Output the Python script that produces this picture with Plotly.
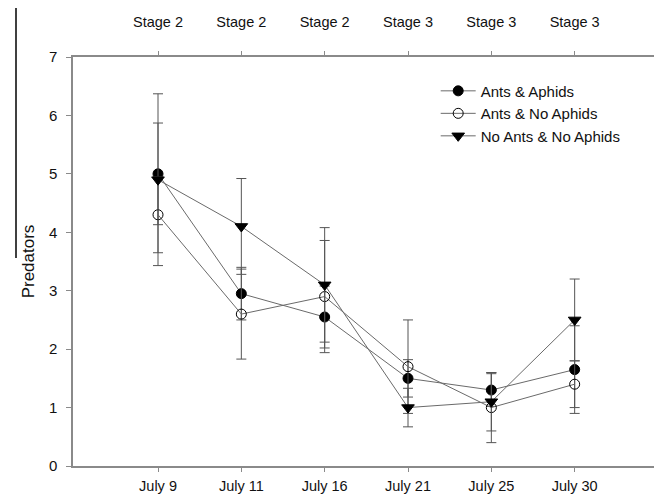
import plotly.graph_objects as go

dates = ["July 9", "July 11", "July 16", "July 21", "July 25", "July 30"]
stages = ["Stage 2", "Stage 2", "Stage 2", "Stage 3", "Stage 3", "Stage 3"]

ants_aphids = [5.0, 2.95, 2.55, 1.5, 1.3, 1.65]
ants_aphids_err = [0.87, 0.45, 0.53, 0.32, 0.28, 0.75]

ants_no_aphids = [4.3, 2.6, 2.9, 1.7, 1.0, 1.4]
ants_no_aphids_err = [0.65, 0.77, 0.96, 0.8, 0.6, 0.4]

no_ants_no_aphids = [4.9, 4.1, 3.1, 1.0, 1.1, 2.5]
no_ants_no_aphids_err = [1.47, 0.82, 0.98, 0.33, 0.5, 0.7]

y_ticks = [0, 1, 2, 3, 4, 5, 6, 7]

FONT = "Liberation Sans, Arial, sans-serif"
LINE_C = "#6a6a6a"
ERR_C = "#555555"
AX_C = "#8a8a8a"

fig = go.Figure()

series = [
    ("Ants & Aphids", ants_aphids, ants_aphids_err,
     dict(symbol="circle", size=10, color="black", line=dict(color="black", width=1))),
    ("Ants & No Aphids", ants_no_aphids, ants_no_aphids_err,
     dict(symbol="circle-open", size=10, color="black", line=dict(color="black", width=1))),
    ("No Ants & No Aphids", no_ants_no_aphids, no_ants_no_aphids_err,
     dict(symbol="triangle-down", size=11, color="black", line=dict(color="black", width=1))),
]

for name, vals, errs, marker in series:
    fig.add_trace(go.Scatter(
        x=dates, y=vals, name=name, mode="lines+markers",
        line=dict(color=LINE_C, width=1),
        marker=marker,
        error_y=dict(type="data", array=errs, visible=True,
                     color=ERR_C, thickness=1, width=5),
    ))

# invisible trace to anchor the top (stage) axis
fig.add_trace(go.Scatter(x=dates, y=[None] * len(dates), xaxis="x2",
                         showlegend=False, hoverinfo="skip", mode="markers"))

# page body adds an 8px offset, so the figure is 8px smaller on each side
fig.update_layout(
    width=654, height=492,
    margin=dict(l=65, r=4, t=49, b=34, autoexpand=False),
    paper_bgcolor="white", plot_bgcolor="white",
    font=dict(family=FONT, size=15, color="#111111"),
    showlegend=True,
    legend=dict(x=0.62, y=0.957, xanchor="left", yanchor="top",
                bgcolor="rgba(0,0,0,0)", font=dict(size=15, color="#111111"),
                itemwidth=35, tracegroupgap=0),
    xaxis=dict(type="category", categoryorder="array", categoryarray=dates,
               range=[-1.02, 6.0], showgrid=False, zeroline=False, automargin=False,
               showline=True, linecolor=AX_C, linewidth=1.5,
               ticks="outside", ticklen=4, tickcolor=AX_C, tickwidth=1,
               tickfont=dict(size=14.5, color="#111111"), ticklabelstandoff=2),
    xaxis2=dict(type="category", categoryorder="array", categoryarray=dates,
                overlaying="x", side="top", matches="x", automargin=False,
                range=[-1.02, 6.0], showgrid=False, zeroline=False,
                showline=True, linecolor=AX_C, linewidth=1.5,
                ticks="outside", ticklen=4, tickcolor=AX_C, tickwidth=1,
                tickmode="array", tickvals=dates, ticktext=stages,
                tickfont=dict(size=14.5, color="#111111"), ticklabelstandoff=18),
    yaxis=dict(range=[0, 7], tickvals=y_ticks, showgrid=False, zeroline=False,
               automargin=False,
               showline=True, linecolor=AX_C, linewidth=1.5,
               ticks="outside", ticklen=5, tickcolor=AX_C, tickwidth=1,
               tickfont=dict(size=15, color="#111111"), ticklabelstandoff=6,
               title=dict(text="Predators", font=dict(size=17, color="#111111"),
                          standoff=10)),
)

# stray vertical rule at the left edge of the figure
fig.add_shape(type="line", xref="paper", yref="paper",
              x0=-57 / 585, x1=-57 / 585, y0=(466 - 8) / 409, y1=(466 - 258) / 409,
              line=dict(color="black", width=1.5))

fig.write_html("out.html")
